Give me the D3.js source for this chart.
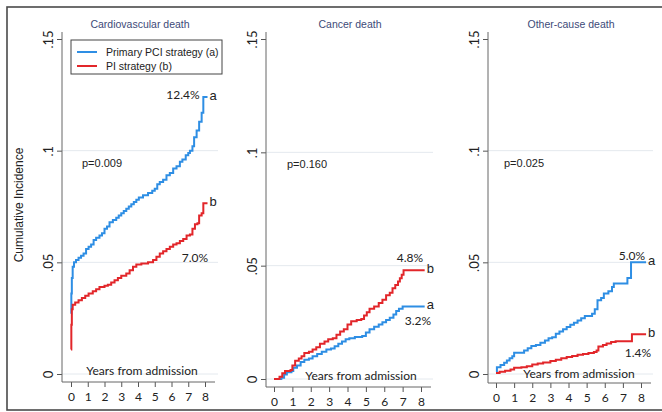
<!DOCTYPE html>
<html>
<head>
<meta charset="utf-8">
<script src="https://cdn.jsdelivr.net/npm/d3@7"></script>
<style>
  body { margin: 0; background: #fff; }
  svg { display: block; }
</style>
</head>
<body>
<svg id="chart" width="662" height="412"></svg>
<script>
// ---- data -------------------------------------------------------------
const years = [0, 1, 2, 3, 4, 5, 6, 7, 8];
const yTicks = [0, 0.05, 0.1, 0.15];
const yTickLabels = ["0", ".05", ".1", ".15"];
const gridTicks = [0, 0.05, 0.1];
const panelTitles = ["Cardiovascular death", "Cancer death", "Other-cause death"];
const pValues = ["p=0.009", "p=0.160", "p=0.025"];
const seriesNames = ["Primary PCI strategy (a)", "PI strategy (b)"];
const seriesTags = ["a", "b"];
const endLabels = [["12.4%", "7.0%"], ["3.2%", "4.8%"], ["5.0%", "1.4%"]];

// cumulative incidence, [years, proportion]
const cvdPci = [[0,0.027],[0.02,0.036],[0.05,0.043],[0.1,0.048],[0.18,0.050],[0.3,0.051],[0.45,0.052],[0.6,0.053],[0.75,0.054],[0.9,0.056],[1.05,0.057],[1.2,0.058],[1.35,0.060],[1.5,0.061],[1.7,0.062],[1.85,0.063],[2.0,0.065],[2.15,0.066],[2.3,0.068],[2.5,0.069],[2.7,0.070],[2.85,0.071],[3.0,0.072],[3.15,0.073],[3.3,0.074],[3.45,0.075],[3.6,0.076],[3.75,0.077],[3.9,0.078],[4.05,0.079],[4.3,0.080],[4.6,0.081],[4.85,0.082],[5.0,0.083],[5.15,0.085],[5.3,0.086],[5.5,0.087],[5.7,0.089],[5.9,0.090],[6.1,0.092],[6.3,0.093],[6.5,0.095],[6.65,0.096],[6.85,0.098],[7.0,0.099],[7.1,0.100],[7.25,0.102],[7.35,0.106],[7.5,0.109],[7.65,0.113],[7.8,0.117],[7.9,0.124],[8.15,0.124]];
const cvdPi = [[0,0.011],[0.02,0.022],[0.05,0.029],[0.1,0.031],[0.25,0.032],[0.45,0.033],[0.65,0.034],[0.85,0.035],[1.05,0.036],[1.3,0.037],[1.5,0.038],[1.7,0.039],[2.0,0.0395],[2.2,0.040],[2.4,0.041],[2.6,0.042],[2.8,0.043],[3.0,0.044],[3.3,0.045],[3.5,0.0465],[3.7,0.048],[3.9,0.049],[4.2,0.0495],[4.6,0.050],[4.9,0.051],[5.1,0.0525],[5.3,0.054],[5.5,0.055],[5.7,0.056],[5.9,0.057],[6.1,0.058],[6.3,0.0585],[6.5,0.0595],[6.7,0.0605],[6.9,0.062],[7.1,0.0625],[7.25,0.065],[7.4,0.067],[7.55,0.0675],[7.65,0.071],[7.8,0.072],[7.9,0.0765],[8.15,0.0765]];
const cancerPci = [[0,0],[0.4,0.0005],[0.55,0.002],[0.7,0.003],[0.95,0.0035],[1.05,0.005],[1.25,0.006],[1.45,0.0075],[1.65,0.0085],[1.9,0.009],[2.1,0.010],[2.35,0.011],[2.6,0.012],[2.85,0.013],[3.1,0.0135],[3.3,0.0145],[3.5,0.0155],[3.7,0.0165],[3.9,0.0175],[4.1,0.018],[4.4,0.0185],[4.8,0.019],[5.0,0.0205],[5.2,0.022],[5.45,0.023],[5.7,0.024],[5.9,0.025],[6.1,0.026],[6.3,0.027],[6.5,0.0285],[6.65,0.030],[6.8,0.031],[7.0,0.032],[8.2,0.032]];
const cancerPi = [[0,0],[0.3,0.001],[0.45,0.0025],[0.6,0.0035],[0.9,0.004],[1.0,0.006],[1.15,0.008],[1.35,0.009],[1.5,0.010],[1.65,0.0115],[1.9,0.012],[2.1,0.013],[2.3,0.014],[2.5,0.0155],[2.75,0.0165],[2.95,0.0175],[3.2,0.018],[3.4,0.0195],[3.6,0.021],[3.8,0.022],[4.0,0.024],[4.2,0.0255],[4.5,0.026],[4.75,0.0265],[4.9,0.028],[5.05,0.0295],[5.2,0.031],[5.45,0.032],[5.7,0.0335],[5.9,0.035],[6.1,0.037],[6.3,0.038],[6.45,0.040],[6.6,0.0415],[6.75,0.043],[6.85,0.0445],[6.95,0.046],[7.05,0.048],[8.2,0.048]];
const otherPci = [[0,0.001],[0.05,0.003],[0.25,0.004],[0.45,0.005],[0.6,0.006],[0.75,0.007],[0.9,0.008],[1.0,0.0095],[1.4,0.0095],[1.55,0.0105],[1.75,0.0115],[1.95,0.0125],[2.2,0.013],[2.45,0.014],[2.7,0.015],[2.9,0.016],[3.1,0.0165],[3.3,0.018],[3.5,0.019],[3.7,0.020],[3.9,0.021],[4.1,0.022],[4.3,0.023],[4.5,0.024],[4.7,0.025],[4.9,0.026],[5.1,0.026],[5.3,0.027],[5.45,0.029],[5.6,0.033],[5.8,0.034],[5.95,0.036],[6.2,0.037],[6.4,0.039],[6.5,0.0405],[7.25,0.043],[7.45,0.050],[8.28,0.050]];
const otherPi = [[0,0.0005],[0.2,0.001],[0.5,0.0015],[0.8,0.002],[1.0,0.0028],[1.4,0.003],[1.7,0.0035],[2.0,0.0042],[2.3,0.0047],[2.6,0.0052],[3.0,0.0058],[3.3,0.0064],[3.6,0.007],[3.9,0.0076],[4.2,0.0081],[4.5,0.0086],[4.8,0.009],[5.1,0.0094],[5.4,0.0098],[5.55,0.0105],[5.65,0.0123],[5.9,0.013],[6.1,0.0137],[6.35,0.0143],[6.6,0.0147],[7.3,0.0147],[7.5,0.0178],[8.28,0.0178]];

const panelSeries = [[cvdPci, cvdPi], [cancerPci, cancerPi], [otherPci, otherPi]];

// ---- styling / layout -------------------------------------------------
const colors = ["#2e8ee4", "#e2262a"];
const textColor = "#222";
const titleColor = "#3d4a78";
const sans = "'Liberation Sans', Arial, sans-serif";
const calib = "Lato, 'Open Sans', sans-serif";

const layout = [
  { axisX: 62,  x0: 71,  x8: 205, y0: 374, y15: 39, base: 382, gridR: 218, top: 32,
    titleX: 140, pX: 82,  yearsX: 142, yearsY: 375,
    pct: [[183, 99], [195, 262]] },
  { axisX: 266, x0: 274, x8: 421, y0: 379, y15: 39, base: 387, gridR: 433, top: 32,
    titleX: 350, pX: 287, yearsX: 361, yearsY: 380,
    pct: [[418, 325], [410, 262]] },
  { axisX: 488, x0: 496, x8: 641, y0: 374, y15: 39, base: 383, gridR: 653, top: 32,
    titleX: 571, pX: 504, yearsX: 579, yearsY: 378,
    pct: [[632, 260], [638, 357]] }
];

const svg = d3.select("#chart");

// outer frame
svg.append("rect")
  .attr("x", 7).attr("y", 7).attr("width", 670).attr("height", 403)
  .attr("fill", "none").attr("stroke", "#4a4a4a").attr("stroke-width", 1.6);

// shared y-axis title
svg.append("text")
  .attr("transform", "translate(23,205) rotate(-90)")
  .attr("text-anchor", "middle")
  .attr("font-family", sans).attr("font-size", 12)
  .attr("fill", textColor)
  .text("Cumulative Incidence");

layout.forEach((L, i) => {
  const g = svg.append("g");
  const x = d3.scaleLinear().domain([0, 8]).range([L.x0, L.x8]);
  const y = d3.scaleLinear().domain([0, 0.15]).range([L.y0, L.y15]);

  // light horizontal grid
  g.selectAll(".grid").data(gridTicks).enter().append("line")
    .attr("x1", L.axisX).attr("x2", L.gridR)
    .attr("y1", d => y(d)).attr("y2", d => y(d))
    .attr("stroke", "#e4e9ee").attr("stroke-width", 1);

  // y axis
  const yAxis = d3.axisLeft(y).tickValues(yTicks)
    .tickFormat((d, k) => yTickLabels[k]).tickSize(5).tickPadding(6);
  const ya = g.append("g").attr("transform", `translate(${L.axisX},0)`).call(yAxis);
  ya.select(".domain").remove();
  ya.selectAll(".tick line").attr("stroke", "#555");
  ya.selectAll(".tick text")
    .attr("font-family", calib).attr("font-size", 13).attr("fill", textColor)
    .attr("text-anchor", "middle").attr("x", null).attr("dy", null)
    .attr("transform", "translate(-14,0) rotate(-90)")
    .attr("dominant-baseline", "central");
  g.append("line")
    .attr("x1", L.axisX).attr("x2", L.axisX).attr("y1", L.top).attr("y2", L.base)
    .attr("stroke", "#666").attr("stroke-width", 1);

  // x axis
  const xAxis = d3.axisBottom(x).tickValues(years).tickSize(5).tickPadding(5)
    .tickFormat(d3.format("d"));
  const xa = g.append("g").attr("transform", `translate(0,${L.base})`).call(xAxis);
  xa.select(".domain").remove();
  xa.selectAll(".tick line").attr("stroke", "#555");
  xa.selectAll(".tick text")
    .attr("font-family", calib).attr("font-size", 12).attr("fill", textColor);
  g.append("line")
    .attr("x1", L.axisX).attr("x2", x(8) + 10).attr("y1", L.base).attr("y2", L.base)
    .attr("stroke", "#666").attr("stroke-width", 1);

  // title
  g.append("text")
    .attr("x", L.titleX).attr("y", 28).attr("text-anchor", "middle")
    .attr("font-family", sans).attr("font-size", 10.5).attr("fill", titleColor)
    .text(panelTitles[i]);

  // p-value
  g.append("text")
    .attr("x", L.pX).attr("y", y(0.1) + 16)
    .attr("font-family", sans).attr("font-size", 11).attr("fill", textColor)
    .text(pValues[i]);

  // x title sits just above the zero line
  g.append("text")
    .attr("x", L.yearsX).attr("y", L.yearsY).attr("text-anchor", "middle")
    .attr("font-family", calib).attr("font-size", 12).attr("fill", textColor)
    .text("Years from admission");

  // step curves
  const line = d3.line().x(d => x(d[0])).y(d => y(d[1])).curve(d3.curveStepAfter);
  panelSeries[i].forEach((s, k) => {
    g.append("path").datum(s)
      .attr("d", line).attr("fill", "none")
      .attr("stroke", colors[k]).attr("stroke-width", 2);
    const last = s[s.length - 1];
    g.append("text")
      .attr("x", x(last[0]) + 2).attr("y", y(last[1]) - 2)
      .attr("dominant-baseline", "central")
      .attr("font-family", sans).attr("font-size", 13).attr("fill", textColor)
      .text(seriesTags[k]);
    g.append("text")
      .attr("x", L.pct[k][0]).attr("y", L.pct[k][1]).attr("text-anchor", "middle")
      .attr("font-family", calib).attr("font-size", 12).attr("fill", textColor)
      .text(endLabels[i][k]);
  });
});

// legend in the first panel
const lg = svg.append("g").attr("transform", "translate(71,40)");
lg.append("rect").attr("width", 151).attr("height", 34)
  .attr("fill", "#fff").attr("stroke", "#444").attr("stroke-width", 1);
seriesNames.forEach((name, k) => {
  const yy = 12 + k * 14;
  lg.append("line").attr("x1", 6).attr("x2", 26).attr("y1", yy).attr("y2", yy)
    .attr("stroke", colors[k]).attr("stroke-width", 2);
  lg.append("text").attr("x", 35).attr("y", yy).attr("dominant-baseline", "central")
    .attr("font-family", sans).attr("font-size", 10.5).attr("fill", textColor)
    .text(name);
});
</script>
</body>
</html>
